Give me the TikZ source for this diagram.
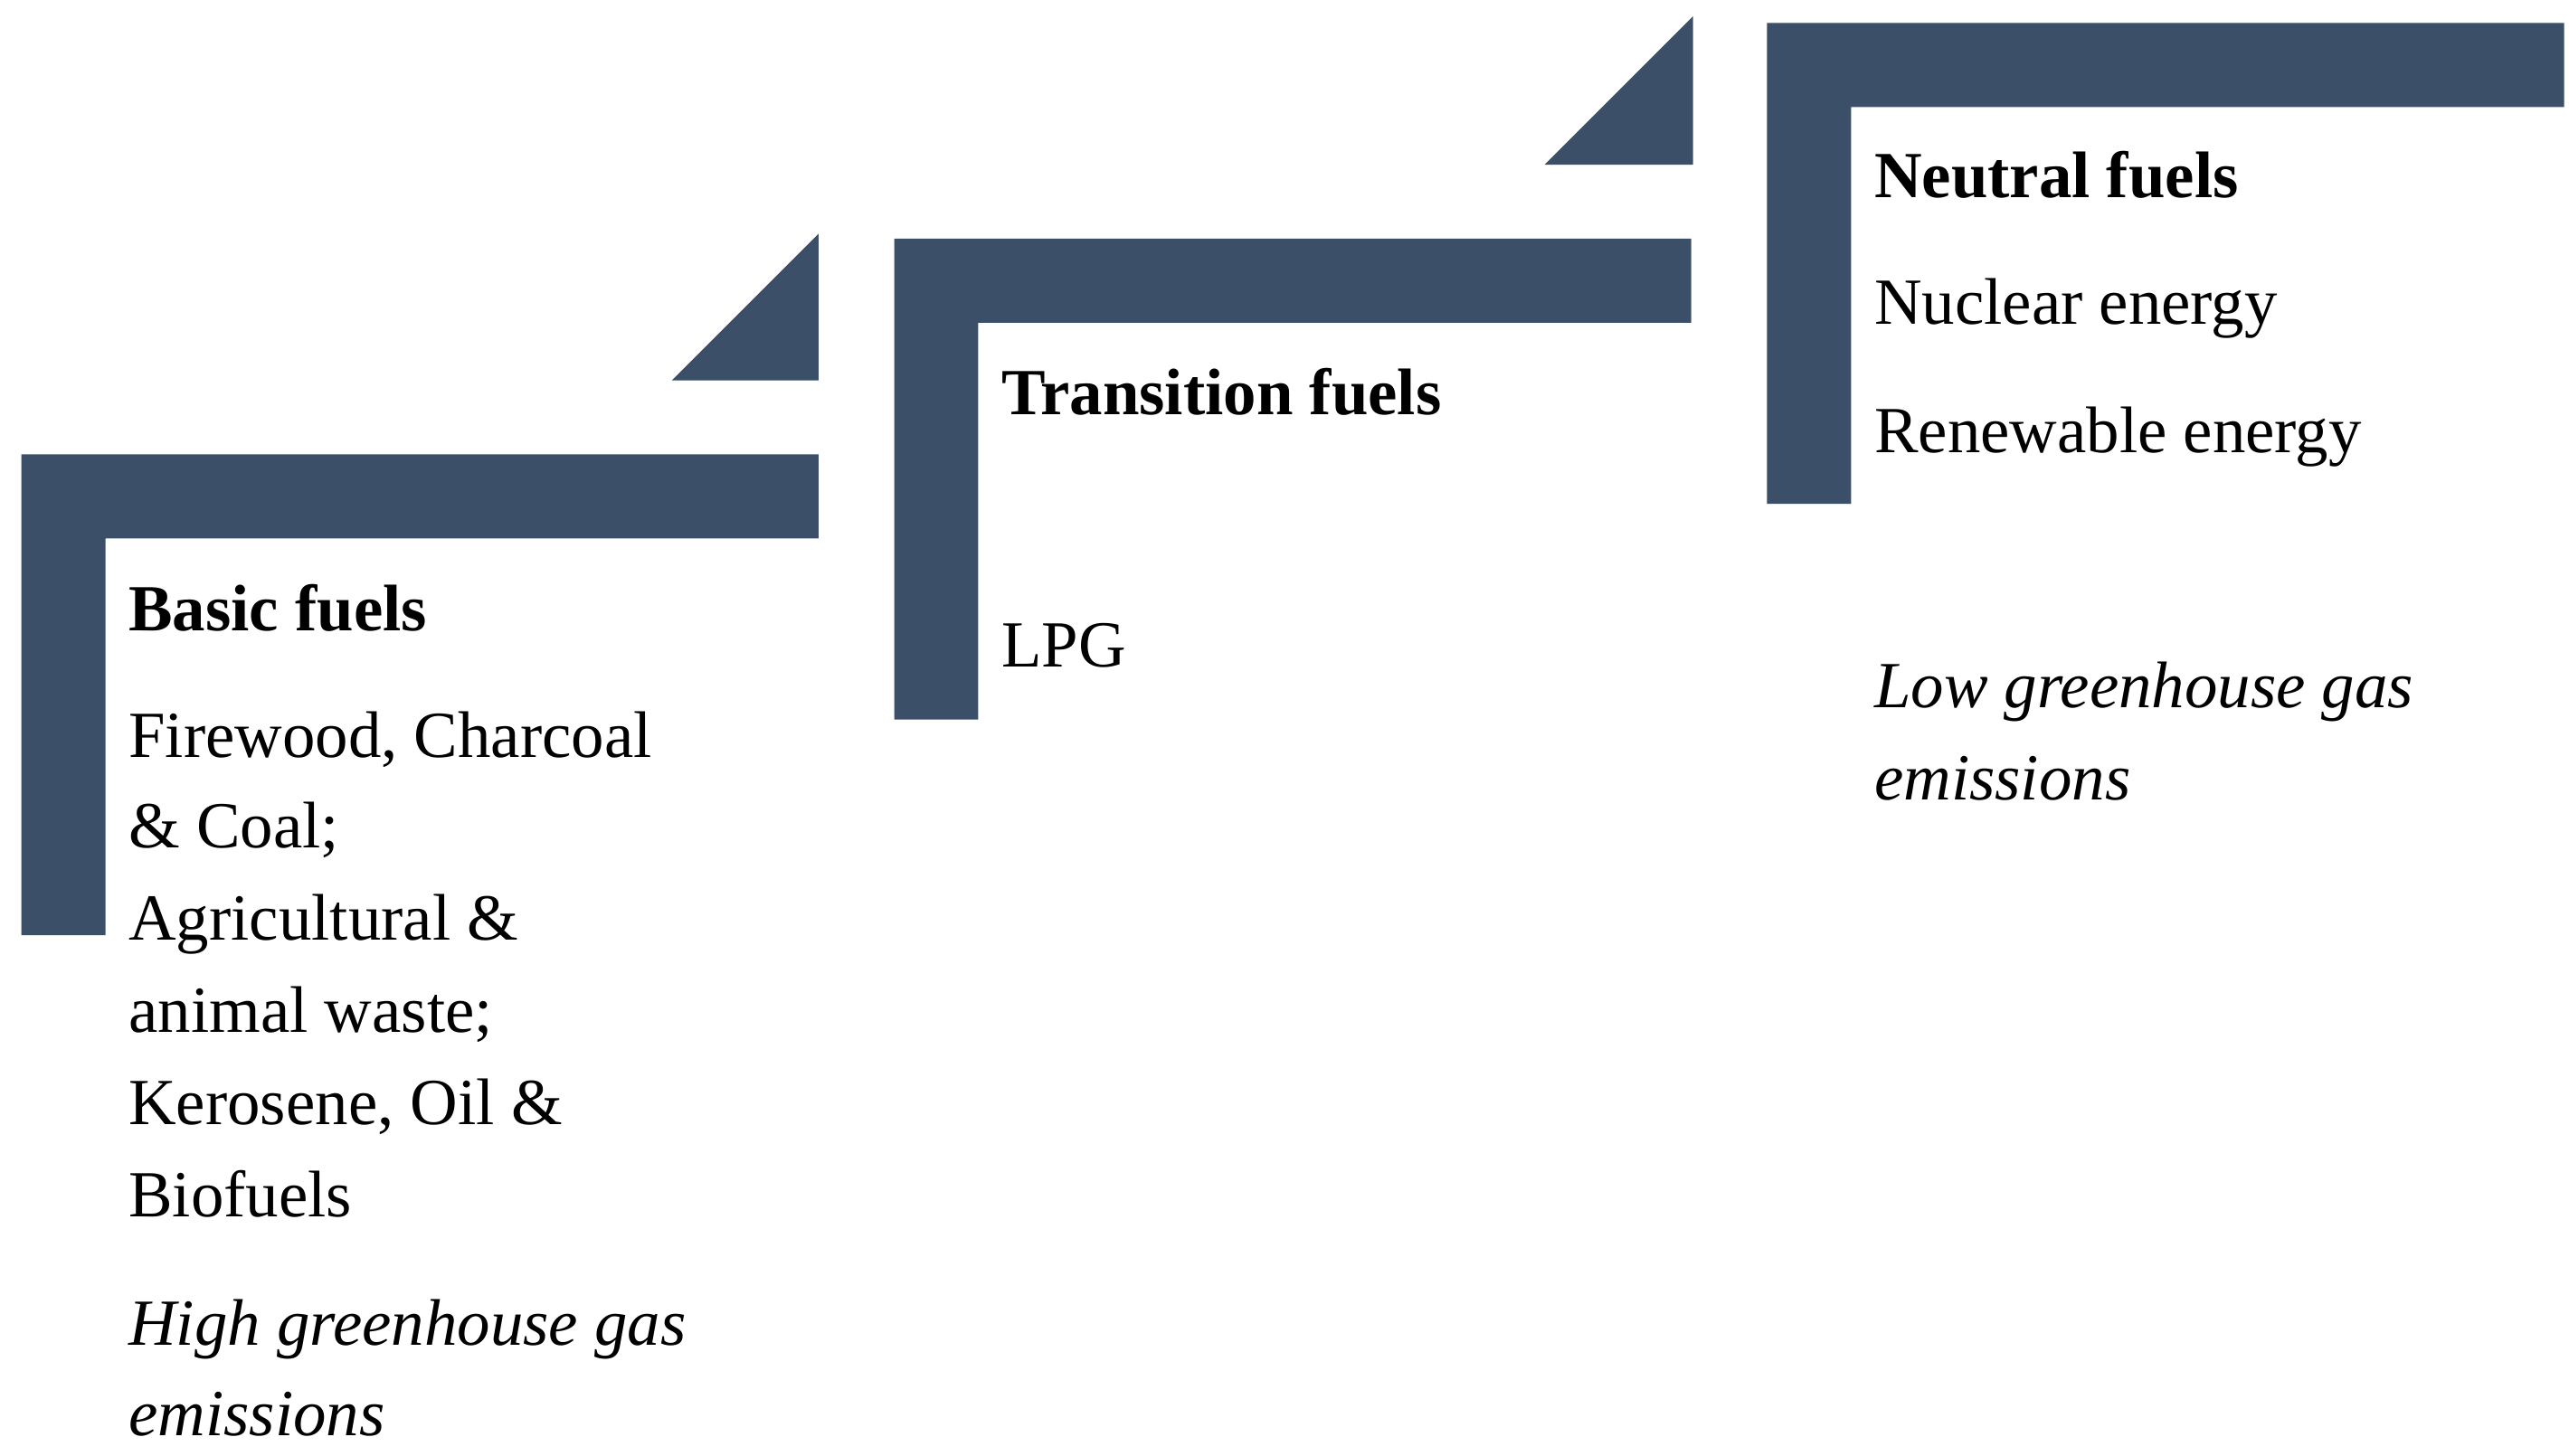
\documentclass[tikz,border=0pt]{standalone}
\usepackage{fontspec}
\setmainfont{Liberation Serif}
\definecolor{bar}{HTML}{3B5068}
\tikzset{shp/.style={fill=bar,draw=none},
 tx/.style={anchor=base west,inner sep=0pt,font=\fontsize{40}{48}\selectfont},
 bf/.style={tx,font=\fontsize{40}{48}\selectfont\bfseries},
 it/.style={tx,font=\fontsize{40}{48}\selectfont\itshape}}
\begin{document}
\begin{tikzpicture}[x=1pt,y=-1pt]
\useasboundingbox[fill=white] (0,0) rectangle (1560,884);
\fill[shp] (13,276) -- (497,276) -- (497,327) -- (64,327) -- (64,568) -- (13,568) -- cycle;
\fill[shp] (408,231) -- (497,231) -- (497,142) -- cycle;
\fill[shp] (543,145) -- (1027,145) -- (1027,196) -- (594,196) -- (594,437) -- (543,437) -- cycle;
\fill[shp] (938,100) -- (1028,100) -- (1028,10) -- cycle;
\fill[shp] (1073,14) -- (1557,14) -- (1557,65) -- (1124,65) -- (1124,306) -- (1073,306) -- cycle;
\node[bf] (b0) at (78,383) {Basic fuels};
\node[tx] (b1) at (78,460) {Firewood, Charcoal};
\node[tx] (b2) at (78,515) {\& Coal;};
\node[tx] (b3) at (78,571) {Agricultural \&};
\node[tx] (b4) at (78,627) {animal waste;};
\node[tx] (b5) at (78,683) {Kerosene, Oil \&};
\node[tx] (b6) at (78,739) {Biofuels};
\node[it] (b7) at (78,817) {High greenhouse gas};
\node[it] (b8) at (78,872) {emissions};
\node[bf] (t0) at (608,252) {Transition fuels};
\node[tx] (t1) at (608,405) {LPG};
\node[bf] (n0) at (1138,120) {Neutral fuels};
\node[tx] (n1) at (1138,197) {Nuclear energy};
\node[tx] (n2) at (1138,275) {Renewable energy};
\node[it] (n3) at (1138,430) {Low greenhouse gas};
\node[it] (n4) at (1138,486) {emissions};
\end{tikzpicture}
\end{document}
